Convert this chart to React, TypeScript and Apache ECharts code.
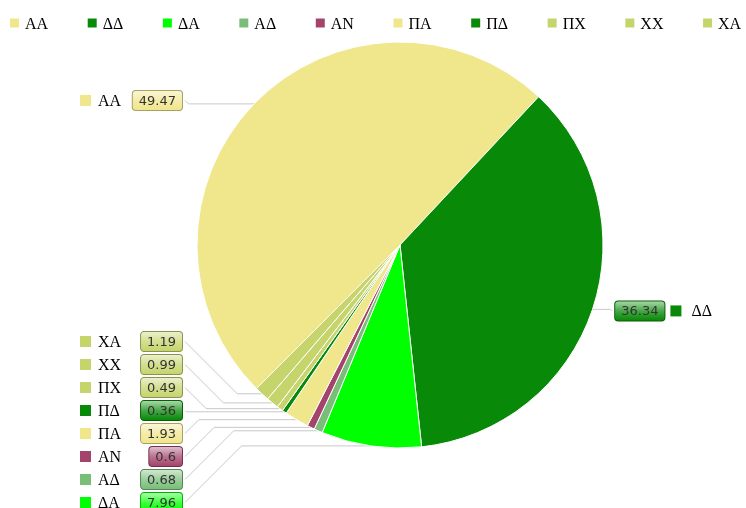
import React, { useEffect, useRef } from "react";
import * as echarts from "echarts";

const categories = ["ΑΑ", "ΔΔ", "ΔΑ", "ΑΔ", "ΑΝ", "ΠΑ", "ΠΔ", "ΠΧ", "ΧΧ", "ΧΑ"];
const values = [49.47, 36.34, 7.96, 0.68, 0.6, 1.93, 0.36, 0.49, 0.99, 1.19];
const colors = ["#F0E68C", "#088A08", "#00FF00", "#78BE78", "#A4446C", "#F0E68C", "#088A08", "#C6D46C", "#C6D46C", "#C6D46C"];

const START_ANGLE = 225;
const SERIF = "'Liberation Serif', 'DejaVu Serif', serif";
const SANS = "'DejaVu Sans', sans-serif";
const LH = 20;

function hexToRgb(h: string): number[] {
  const n = parseInt(h.slice(1), 16);
  return [(n >> 16) & 255, (n >> 8) & 255, n & 255];
}
function mix(h: string, target: number[], t: number): string {
  const c = hexToRgb(h);
  return `rgb(${c.map((v, i) => Math.round(v + (target[i] - v) * t)).join(",")})`;
}

function boxStyle(color: string) {
  return {
    fontFamily: SANS,
    fontSize: 13,
    color: "#333",
    height: 15,
    lineHeight: LH,
    padding: [2, 6, 2, 6],
    borderRadius: 3,
    borderWidth: 1,
    borderColor: mix(color, [0, 0, 0], 0.3),
    backgroundColor: new echarts.graphic.LinearGradient(0, 0, 0, 1, [
      { offset: 0, color: mix(color, [255, 255, 255], 0.65) },
      { offset: 0.5, color: mix(color, [255, 255, 255], 0.25) },
      { offset: 1, color: color },
    ]),
  };
}

function rich(color: string) {
  return {
    sq: { width: 11, height: 11, backgroundColor: color, lineHeight: LH },
    sp: { width: 6, height: 10, lineHeight: LH },
    nm: { fontFamily: SERIF, fontSize: 16, color: "#000", padding: [0, 0, 0, 7], lineHeight: LH },
    nmr: { fontFamily: SERIF, fontSize: 16, color: "#000", padding: [0, 0, 0, 10], lineHeight: LH },
    val: { ...boxStyle(color), align: "right" },
    valr: boxStyle(color),
  };
}

export default function App() {
  const ref = useRef<HTMLDivElement>(null);
  useEffect(() => {
    document.body.style.margin = "0";
    const chart = echarts.init(ref.current!, undefined, { renderer: "svg" });
    const total = values.reduce((a, b) => a + b, 0);
    let cum = 0;
    const data = categories.map((name, i) => {
      const mid = START_ANGLE - (360 * (cum + values[i] / 2)) / total;
      cum += values[i];
      const left = Math.cos((mid * Math.PI) / 180) < 0;
      const color = colors[i];
      const label = left
        ? {
            alignTo: "edge",
            edgeDistance: 80,
            width: 102,
            lineHeight: LH,
            formatter: `{sq|}{nm|${name}}{val|${values[i]}}`,
            rich: rich(color),
          }
        : {
            alignTo: "edge",
            edgeDistance: 34,
            lineHeight: LH,
            formatter: `{valr|${values[i]}}{sp|}{sq|}{nmr|${name}}`,
            rich: rich(color),
          };
      return { name, value: values[i], itemStyle: { color }, label };
    });
    chart.setOption({
      animation: false,
      legend: {
        left: 3,
        top: 10,
        width: 800,
        itemWidth: 11,
        itemHeight: 11,
        itemGap: 37.6,
        icon: "rect",
        textStyle: { fontFamily: SERIF, fontSize: 16, color: "#000" },
        data: categories,
      },
      series: [
        {
          type: "pie",
          left: 0,
          top: 0,
          right: 0,
          bottom: -6,
          center: [400, 245],
          radius: 203,
          startAngle: START_ANGLE,
          clockwise: true,
          avoidLabelOverlap: true,
          itemStyle: { borderColor: "#fff", borderWidth: 1 },
          label: { show: true, position: "outer", alignTo: "edge", distanceToLabelLine: 2 },
          labelLine: { show: true, length: 5, length2: 10, smooth: false, lineStyle: { color: "#c8c8c8", width: 1 } },
          labelLayout: (params: any) => {
            const pts = params.labelLinePoints;
            if (!pts || pts.length < 3) return {};
            const p0 = pts[0];
            const p2 = pts[2];
            const dir = p2[0] < p0[0] ? 1 : -1;
            const dy = Math.abs(p0[1] - p2[1]);
            let bx = p2[0] + dir * dy;
            bx = dir > 0 ? Math.min(bx, p0[0]) : Math.max(bx, p0[0]);
            return { labelLinePoints: [p0, [bx, p0[1]], p2] };
          },
          emphasis: { disabled: true },
          data,
        },
      ],
    });
    return () => chart.dispose();
  }, []);
  return <div ref={ref} style={{ width: 746, height: 508, position: "fixed", left: 0, top: 0 }} />;
}
